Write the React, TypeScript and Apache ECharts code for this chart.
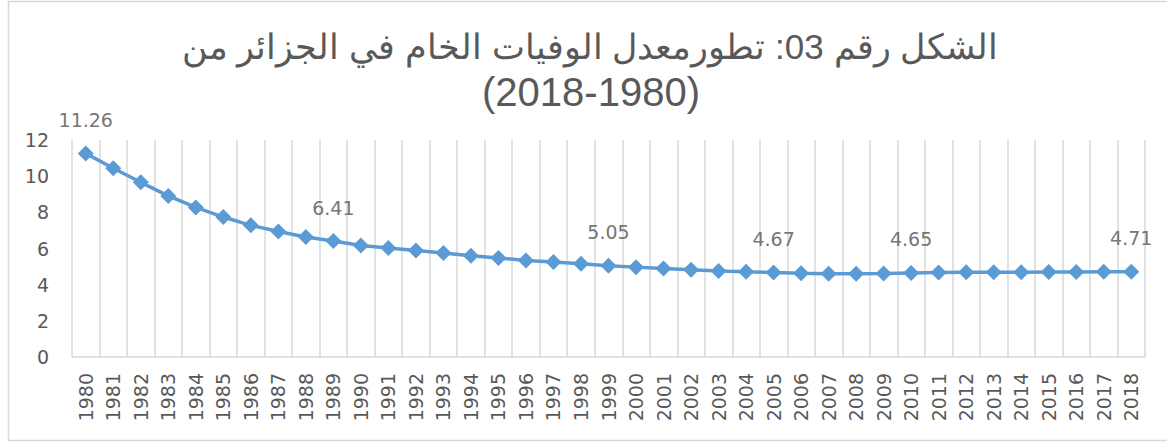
import React, { useEffect, useRef } from "react";
import * as echarts from "echarts";

const years: string[] = [
  "1980","1981","1982","1983","1984","1985","1986","1987","1988","1989",
  "1990","1991","1992","1993","1994","1995","1996","1997","1998","1999",
  "2000","2001","2002","2003","2004","2005","2006","2007","2008","2009",
  "2010","2011","2012","2013","2014","2015","2016","2017","2018",
];

const deathRate: number[] = [
  11.26, 10.44, 9.66, 8.91, 8.27, 7.74, 7.28, 6.94, 6.64, 6.41,
  6.17, 6.03, 5.89, 5.75, 5.6, 5.48, 5.34, 5.25, 5.15, 5.05,
  4.97, 4.89, 4.82, 4.76, 4.72, 4.67, 4.63, 4.6, 4.6, 4.62,
  4.65, 4.67, 4.68, 4.69, 4.69, 4.7, 4.7, 4.71, 4.71,
];

const labelledYears: string[] = ["1980", "1989", "1999", "2005", "2010", "2018"];

const titleLine1 = "الشكل رقم 03: تطورمعدل الوفيات الخام في الجزائر من";
const titleLine2 = "(2018-1980)";

export default function App() {
  const ref = useRef<HTMLDivElement>(null);
  useEffect(() => {
    if (!ref.current) return;
    const chart = echarts.init(ref.current, null, { renderer: "svg" });
    const font = "'DejaVu Sans', sans-serif";
    chart.setOption({
      animation: false,
      backgroundColor: "#ffffff",
      graphic: [
        {
          type: "rect",
          shape: { x: 8.5, y: 1.5, width: 1180, height: 439 },
          style: { fill: "none", stroke: "#d9d9d9", lineWidth: 1.5 },
          silent: true,
        },
        {
          type: "text",
          x: 590,
          y: 46,
          style: {
            text: titleLine1,
            fill: "#595959",
            fontSize: 35,
            fontWeight: "lighter",
            fontFamily: "'Liberation Sans', 'DejaVu Sans', sans-serif",
            align: "center",
            verticalAlign: "middle",
          },
        },
        {
          type: "text",
          x: 591,
          y: 92,
          style: {
            text: titleLine2,
            fill: "#595959",
            fontSize: 40,
            fontFamily: "'Liberation Sans', sans-serif",
            align: "center",
            verticalAlign: "middle",
          },
        },
      ],
      grid: { left: 72, right: 22, top: 140, bottom: 87, containLabel: false },
      xAxis: {
        type: "category",
        data: years,
        boundaryGap: true,
        axisLine: { show: true, lineStyle: { color: "#d9d9d9", width: 1.5 } },
        axisTick: { show: false },
        splitLine: { show: true, interval: 0, lineStyle: { color: "#d9d9d9", width: 1.5 } },
        axisLabel: {
          interval: 0,
          rotate: 90,
          margin: 16,
          color: "#595959",
          fontSize: 19,
          fontFamily: font,
        },
      },
      yAxis: {
        type: "value",
        min: 0,
        max: 12,
        interval: 2,
        axisLine: { show: false },
        axisTick: { show: false },
        splitLine: { show: false },
        axisLabel: { margin: 23, color: "#595959", fontSize: 19, fontFamily: font },
      },
      series: [
        {
          type: "line",
          data: deathRate.map((v, i) => ({
            value: v,
            label: { show: labelledYears.includes(years[i]) },
          })),
          symbol: "diamond",
          symbolSize: 16,
          showAllSymbol: true,
          lineStyle: { color: "#5b9bd5", width: 3.5 },
          itemStyle: { color: "#5b9bd5" },
          label: {
            position: "top",
            distance: 16,
            color: "#767676",
            fontSize: 19,
            fontFamily: font,
            formatter: (p: any) => p.value.toFixed(2),
          },
        },
      ],
    });
    return () => chart.dispose();
  }, []);
  return (
    <div
      ref={ref}
      style={{ position: "absolute", left: 0, top: 0, width: 1167, height: 444 }}
    />
  );
}
